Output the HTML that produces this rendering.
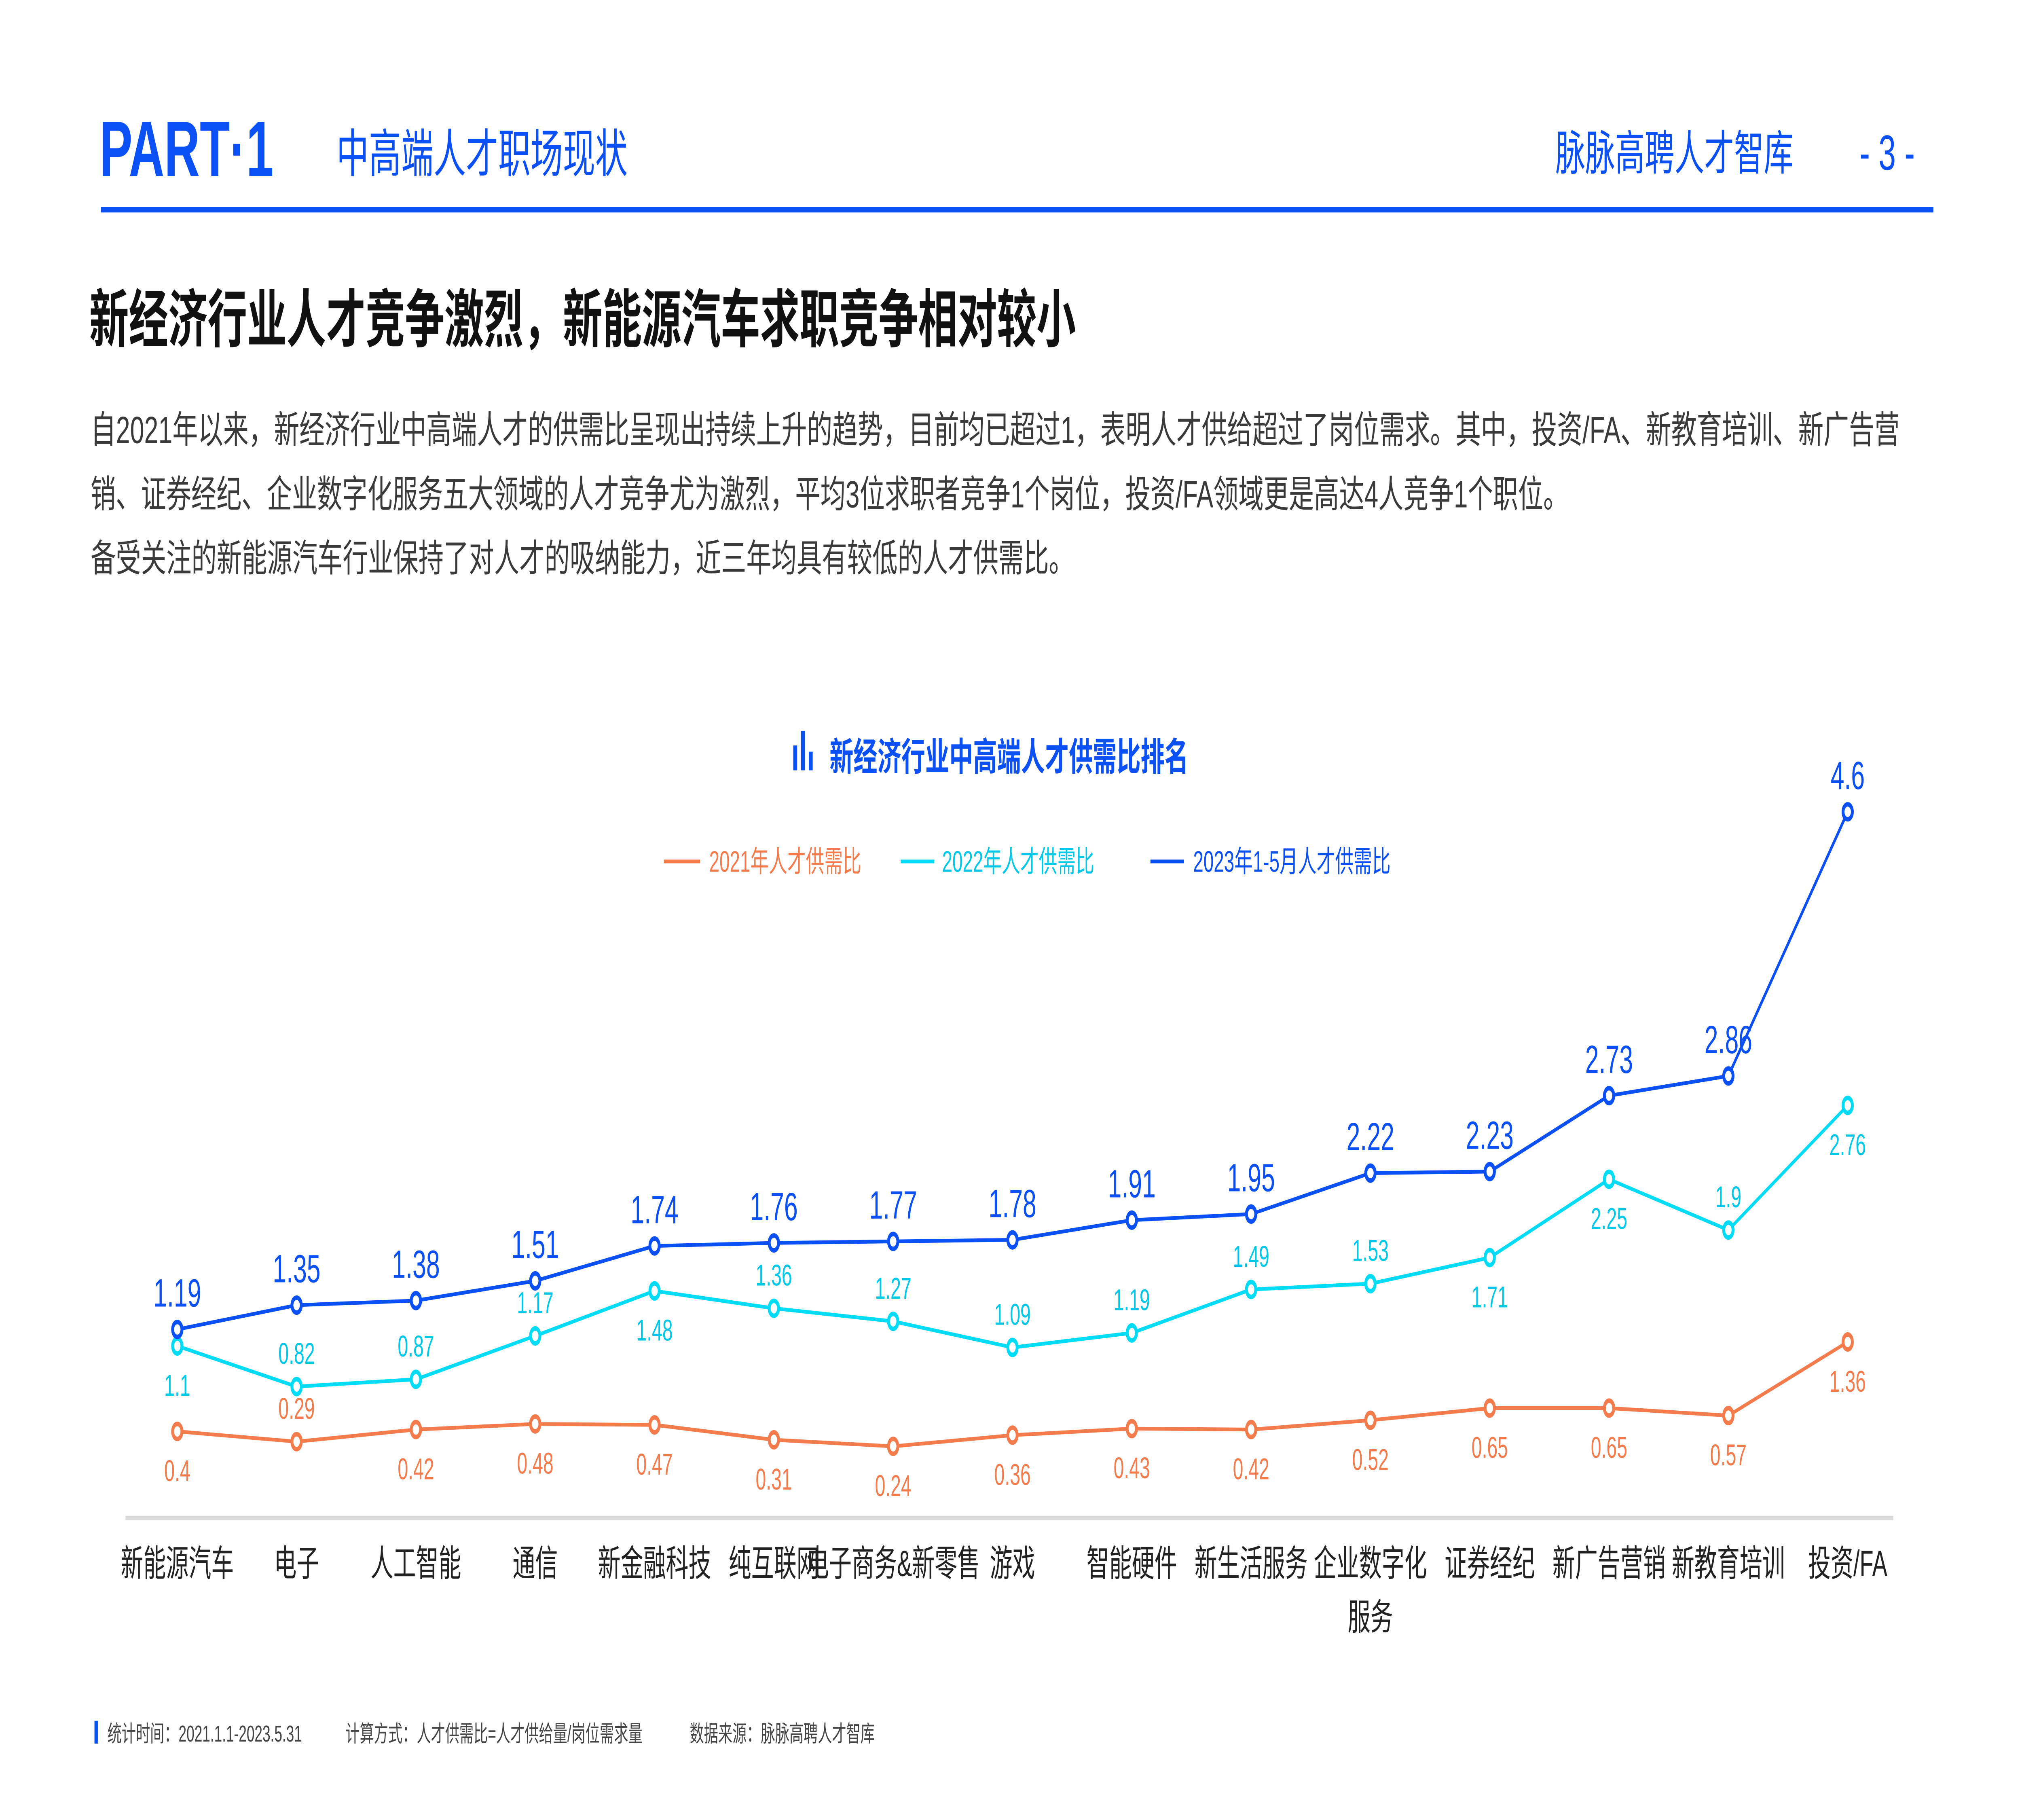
<!DOCTYPE html>
<html><head><meta charset="utf-8"><style>
html,body{margin:0;padding:0;background:#fff;overflow:hidden;width:100%;height:100%;}
svg{display:block;width:100vw;height:100vh;}
</style></head><body>
<svg id="chart" viewBox="0 0 1562.5 878.9" preserveAspectRatio="none" xmlns="http://www.w3.org/2000/svg" font-family="'Liberation Sans','Noto Sans CJK SC',sans-serif">
<rect width="1562.5" height="878.9" fill="#fff"/>
<text x="77" y="85" font-size="38" font-weight="bold" fill="#0a50f5">PART·1</text>
<text x="260" y="83" font-size="25" fill="#0a50f5">中高端人才职场现状</text>
<text x="1202" y="82" font-size="23" fill="#0a50f5">脉脉高聘人才智库</text>
<text x="1437" y="82" font-size="24" fill="#0a50f5">- 3 -</text>
<rect x="78" y="100" width="1416" height="2.6" fill="#0a50f5"/>
<text x="69" y="165" font-size="30.5" font-weight="bold" fill="#111">新经济行业人才竞争激烈，新能源汽车求职竞争相对较小</text>
<g font-size="18.3" fill="#3a3a3a">
<text x="70" y="214" textLength="1398" lengthAdjust="spacingAndGlyphs">自2021年以来，新经济行业中高端人才的供需比呈现出持续上升的趋势，目前均已超过1，表明人才供给超过了岗位需求。其中，投资/FA、新教育培训、新广告营</text>
<text x="70" y="245" textLength="1142" lengthAdjust="spacingAndGlyphs">销、证券经纪、企业数字化服务五大领域的人才竞争尤为激烈，平均3位求职者竞争1个岗位，投资/FA领域更是高达4人竞争1个职位。</text>
<text x="70" y="276" textLength="760" lengthAdjust="spacingAndGlyphs">备受关注的新能源汽车行业保持了对人才的吸纳能力，近三年均具有较低的人才供需比。</text>
</g>
<g>
<rect x="613" y="360" width="3" height="12" fill="#0a50f5"/><rect x="619" y="353" width="3" height="19" fill="#0a50f5"/><rect x="625" y="363" width="3" height="9" fill="#0a50f5"/>
<text x="641" y="372" font-size="18.5" font-weight="bold" fill="#0a50f5">新经济行业中高端人才供需比排名</text>
</g>
<g font-size="14.3">
<g><line x1="513" y1="416" x2="541" y2="416" stroke="#f47c4c" stroke-width="1.8"/><text x="548" y="421" fill="#f47c4c">2021年人才供需比</text></g>
<g><line x1="696" y1="416" x2="722" y2="416" stroke="#00dcf5" stroke-width="1.8"/><text x="728" y="421" fill="#00c8e8">2022年人才供需比</text></g>
<g><line x1="889" y1="416" x2="915" y2="416" stroke="#0a50f5" stroke-width="1.8"/><text x="922" y="421" fill="#0a50f5">2023年1-5月人才供需比</text></g>
</g>
<rect x="97" y="732" width="1366" height="2.2" fill="#d9d9d9"/>
<g id="plot"></g>
<g font-size="11" fill="#444">
<rect x="73" y="831" width="2.6" height="11" fill="#0a50f5"/>
<text x="83" y="841">统计时间：2021.1.1-2023.5.31</text>
<text x="267" y="841">计算方式：人才供需比=人才供给量/岗位需求量</text>
<text x="533" y="841">数据来源：脉脉高聘人才智库</text>
</g>
</svg>
<script>
const categories=["新能源汽车","电子","人工智能","通信","新金融科技","纯互联网","电子商务&新零售","游戏","智能硬件","新生活服务","企业数字化\n服务","证券经纪","新广告营销","新教育培训","投资/FA"];
const values2021=[0.4,0.29,0.42,0.48,0.47,0.31,0.24,0.36,0.43,0.42,0.52,0.65,0.65,0.57,1.36];
const values2022=[1.1,0.82,0.87,1.17,1.48,1.36,1.27,1.09,1.19,1.49,1.53,1.71,2.25,1.9,2.76];
const values2023=[1.19,1.35,1.38,1.51,1.74,1.76,1.77,1.78,1.91,1.95,2.22,2.23,2.73,2.86,4.6];
const place2021=["b","a","b","b","b","b","b","b","b","b","b","b","b","b","b"];
const place2022=["b","a","a","a","b","a","a","a","a","a","a","b","b","a","b"];
const NS="http://www.w3.org/2000/svg";
const plot=document.getElementById('plot');
function xPos(i){return 137+i*92.2;}
const y2021=v=>689-(v-0.45)*45;
const y2022=v=>650-(v-1.1)*70;
const y2023=v=>642-(v-1.19)*73.3;
function mk(tag,attrs){const e=document.createElementNS(NS,tag);for(const k in attrs)e.setAttribute(k,attrs[k]);return e;}
function series(vals,yf,color,txtColor,name,fs,place){
  const g=mk('g',{});
  
  
  const pts=vals.map((v,i)=>xPos(i)+','+yf(v)).join(' ');
  const pl=mk('polyline',{points:pts,fill:'none',stroke:color,'stroke-width':1.8});
  
  
  g.appendChild(pl);
  vals.forEach((v,i)=>{
    const c=mk('circle',{cx:xPos(i),cy:yf(v),r:3.6,fill:'#fff',stroke:color,'stroke-width':2.2});
    
    
    g.appendChild(c);
    const below=place&&place[i]==='b';
    const t=mk('text',{x:xPos(i),y:below?yf(v)+24:yf(v)-11,'text-anchor':'middle','font-size':fs,fill:txtColor});
    t.textContent=String(v);
    
    
    g.appendChild(t);
  });
  plot.appendChild(g);
}
series(values2021,y2021,'#f47c4c','#f47c4c','series-2021',14.5,place2021);
series(values2022,y2022,'#00dcf5','#00c8e8','series-2022',14.5,place2022);
series(values2023,y2023,'#0a50f5','#0a50f5','series-2023',19,null);
categories.forEach((c,i)=>{
  const lines=c.split('\n');
  lines.forEach((ln,j)=>{
    const t=mk('text',{x:xPos(i),y:761+j*26,'text-anchor':'middle','font-size':17.5,fill:'#222'});
    t.textContent=ln;
    
    
    plot.appendChild(t);
  });
});
</script>
</body></html>
